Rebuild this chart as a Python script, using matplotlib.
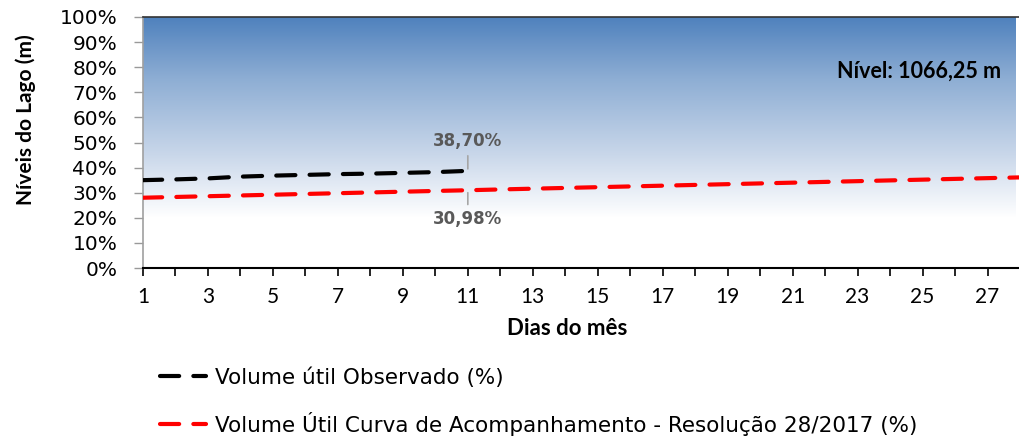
import numpy as np
import matplotlib
matplotlib.use("Agg")
import matplotlib.pyplot as plt
from matplotlib.colors import LinearSegmentedColormap

# dias do mes
dias_obs = [1, 2, 3, 4, 5, 6, 7, 8, 9, 10, 11]
vol_obs = [35.0, 35.3, 35.7, 36.4, 36.8, 37.1, 37.4, 37.6, 37.9, 38.2, 38.70]

dias_curva = list(range(1, 29))
vol_curva = [28.0, 28.3, 28.6, 28.9, 29.2, 29.5, 29.8, 30.1, 30.4, 30.7,
             30.98, 31.3, 31.6, 31.9, 32.2, 32.5, 32.8, 33.1, 33.4, 33.7,
             34.0, 34.3, 34.6, 34.9, 35.2, 35.5, 35.8, 36.1]

yticks = list(range(0, 101, 10))

fig = plt.figure(figsize=(10.19, 4.36), dpi=100)
ax = fig.add_axes([143 / 1019, 1 - 268 / 436, 1 - 143 / 1019 + 0.001, (268 - 17) / 436])

xmax = 1 + (1019 - 143) / 32.6
ax.set_xlim(1, xmax)
ax.set_ylim(0, 100)

# fundo em degrade (azul em cima, branco embaixo)
cmap = LinearSegmentedColormap.from_list(
    "fundo", [(0.0, "#ffffff"), (0.20, "#ffffff"), (0.45, "#c9d7ea"),
              (0.75, "#8eaed4"), (1.0, "#4f81bd")])
grad = np.linspace(0, 1, 256).reshape(-1, 1)
ax.imshow(grad, cmap=cmap, origin="lower", aspect="auto",
          extent=[1, xmax, 0, 100], zorder=0)

ax.plot(dias_curva, vol_curva, color="#ff0000", lw=3.0,
        dashes=(4.6, 3.4), dash_capstyle="round", zorder=3,
        label="Volume Útil Curva de Acompanhamento - Resolução 28/2017 (%)")
ax.plot(dias_obs, vol_obs, color="black", lw=3.0,
        dashes=(4.6, 3.4), dash_capstyle="round", zorder=3,
        label="Volume útil Observado (%)")

# rotulos de dados
ax.annotate("38,70%", xy=(11, 39.5), xytext=(11, 50.5), ha="center", va="center",
            fontsize=12, fontweight="bold", color="#595959",
            arrowprops=dict(arrowstyle="-", color="#a6a6a6", lw=1.2, shrinkA=2, shrinkB=0))
ax.annotate("30,98%", xy=(11, 30.0), xytext=(11, 19.5), ha="center", va="center",
            fontsize=12, fontweight="bold", color="#595959",
            arrowprops=dict(arrowstyle="-", color="#a6a6a6", lw=1.2, shrinkA=2, shrinkB=0))

ax.text(0.978, 0.785, "Nível: 1066,25 m", transform=ax.transAxes, ha="right", va="center",
        fontsize=15.5, fontweight="bold", family="Lato", color="black")

ax.set_yticks(yticks)
ax.set_yticklabels([f"{v}%" for v in yticks], fontsize=14.5)
ax.set_xticks(range(1, 29))
ax.set_xticklabels([str(d) if d % 2 == 1 else "" for d in range(1, 29)],
                   fontsize=15, family="Lato")
ax.tick_params(axis="x", direction="out", length=6, width=1.2, color="black", pad=8)
ax.tick_params(axis="y", direction="out", length=6.5, width=1, color="#999999", pad=12)

ax.set_xlabel("Dias do mês", fontsize=16, fontweight="bold", family="Lato")
ax.set_ylabel("Níveis do Lago (m)", fontsize=15, fontweight="bold", family="Lato")
ax.xaxis.set_label_coords((567 - 143) / 876, (268 - 318) / 251)
ax.yaxis.set_label_coords((36 - 143) / 876, (268 - 120) / 251)

ax.spines["right"].set_visible(False)
ax.spines["left"].set_color("#a0a0a0")
ax.spines["left"].set_linewidth(1.2)
ax.spines["bottom"].set_color("black")
ax.spines["bottom"].set_linewidth(1.5)
ax.spines["top"].set_color("#333333")
ax.spines["top"].set_linewidth(1.2)

handles, labels = ax.get_legend_handles_labels()
fig.legend(handles[::-1], labels[::-1], loc="upper left",
           bbox_to_anchor=(141 / 1019, 1 - 348 / 436), frameon=False,
           fontsize=15.5, handlelength=2.1, handletextpad=0.45, labelspacing=1.1)

fig.savefig("out.png", dpi=100)
